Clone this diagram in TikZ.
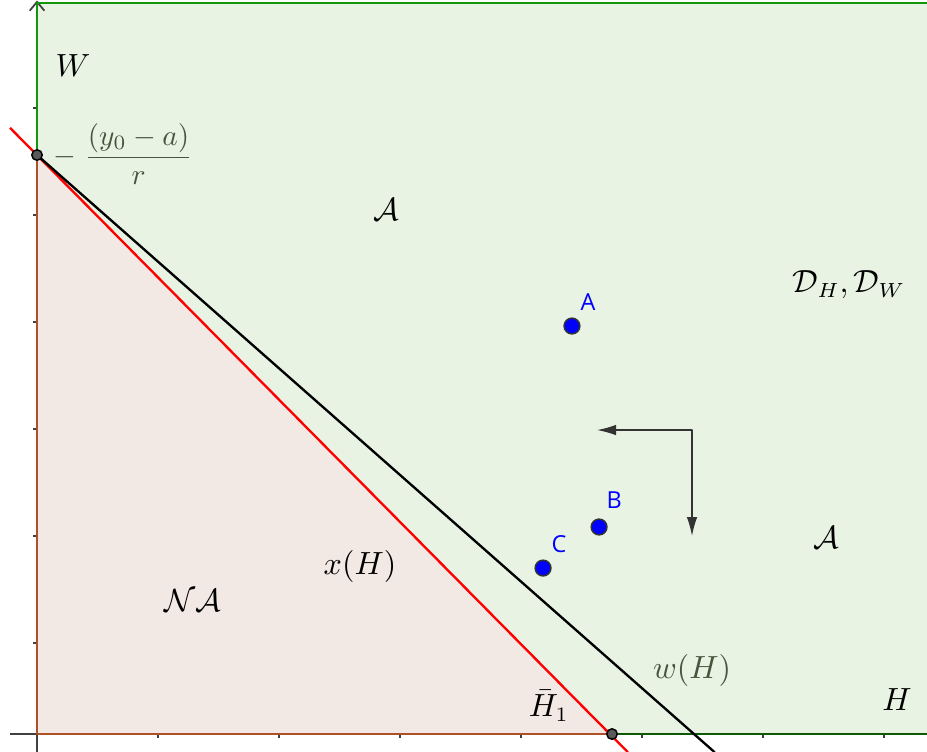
\documentclass[tikz,border=0pt]{standalone}
\usepackage{amsmath}
\usepackage{amssymb}
\usepackage{fontspec}
\newfontfamily\ptfont{Open Sans}
\usetikzlibrary{arrows.meta}
\usepackage{xcolor}

\definecolor{regiongreen}{RGB}{232,243,227}
\definecolor{regionpink}{RGB}{243,233,228}
\definecolor{bordergreen}{RGB}{20,150,10}
\definecolor{borderbrown}{RGB}{175,80,40}
\definecolor{pointblue}{RGB}{0,0,255}
\definecolor{labelgray}{RGB}{70,85,60}

\tikzset{
  axis/.style={black!75, line width=0.6pt},
  bluedot/.style={circle, fill=pointblue, draw=black!80, line width=0.5pt, minimum size=5.4pt, inner sep=0pt},
  blackdot/.style={circle, fill=black!65, draw=black, line width=0.5pt, minimum size=3.6pt, inner sep=0pt},
  ptlabel/.style={text=pointblue, font=\fontsize{8}{9}\selectfont\ptfont, inner sep=0pt},
}

\begin{document}
\begin{tikzpicture}[x=1.452cm, y=1.284cm, line join=round, font=\fontsize{10.5}{12.6}\selectfont]

    % Frame: picture margins
    \useasboundingbox (-0.306,-0.159) rectangle (7.355,6.860);

    % Intercepts and line ends
    \coordinate (O) at (0, 0);
    \coordinate (P) at (0, 5.411);
    \coordinate (Q) at (4.752, 0);
    \coordinate (R1) at (-0.223, 5.665);
    \coordinate (R2) at (4.883, -0.170);
    \coordinate (K2) at (5.600, -0.170);
    \coordinate (TL) at (0, 6.832);
    \coordinate (TR) at (7.400, 6.832);
    \coordinate (BR) at (7.400, 0);

    % Regions: admissible (green) and non-admissible (pink)
    \fill[regiongreen] (O) rectangle (TR);
    \fill[regionpink] (O) -- (P) -- (Q) -- cycle;

    % Axes with ticks
    \draw[axis] (-0.223, 0) -- (7.400, 0);
    \draw[axis, -{Straight Barb[length=3pt, width=5pt]}] (0, -0.170) -- (0, 6.855);
    \foreach \i in {1,...,7}
        \draw[axis] (\i, 0) -- (\i, -0.037);
    \foreach \j in {0.85,1.85,...,5.85}
        \draw[axis] (0, \j) -- (-0.033, \j);

    % Region borders
    \draw[bordergreen, line width=0.7pt] (TR) -- (TL) -- (P);
    \draw[bordergreen!60!black, line width=0.6pt] (Q) -- (BR);
    \draw[borderbrown, line width=0.6pt] (P) -- (O) -- (Q);

    % x(H) (red) and w(H) (black)
    \draw[red, line width=0.8pt] (R1) -- (R2);
    \draw[black, line width=0.8pt] (P) -- (K2);

    % Direction of improvement
    \coordinate (corner) at (5.413, 2.841);
    \coordinate (leftend) at (4.628, 2.841);
    \coordinate (downend) at (5.413, 1.850);
    \draw[black!80, line width=0.5pt, {Latex[length=6.5pt, width=3.6pt]}-{Latex[length=6.5pt, width=3.6pt]}]
        (leftend) -- (corner) -- (downend);

    % Intercept points
    \node[blackdot] (Pdot) at (P) {};
    \node[blackdot] (Qdot) at (Q) {};

    % Points A, B, C
    \node[bluedot] (A) at (4.421, 3.813) {};
    \node[bluedot] (B) at (4.645, 1.935) {};
    \node[bluedot] (C) at (4.182, 1.551) {};
    \node[ptlabel] (labA) at (4.554, 4.037) {A};
    \node[ptlabel] (labB) at (4.769, 2.187) {B};
    \node[ptlabel] (labC) at (4.314, 1.776) {C};

    % Labels
    \node (lblW) at (0.298, 6.252) {$W$};
    \node[text=labelgray, anchor=west, inner sep=0pt, font=\fontsize{9.8}{11.8}\selectfont] (lblfrac) at (0.130, 5.421) {$-\;\dfrac{(y_0-a)}{r}$};
    \node (lblAtop) at (2.884, 4.897) {$\mathcal{A}$};
    \node (lblD) at (6.711, 4.196) {$\mathcal{D}_H,\mathcal{D}_W$};
    \node (lblAright) at (6.521, 1.841) {$\mathcal{A}$};
    \node (lblx) at (2.669, 1.570) {$x(H)$};
    \node (lblNA) at (1.289, 1.252) {$\mathcal{NA}$};
    \node[text=labelgray] (lblw) at (5.413, 0.598) {$w(H)$};
    \node[inner sep=1pt] (lblHbar) at (4.230, 0.265) {$\bar{H}_1$};
    \node (lblH) at (7.107, 0.327) {$H$};

\end{tikzpicture}
\end{document}
